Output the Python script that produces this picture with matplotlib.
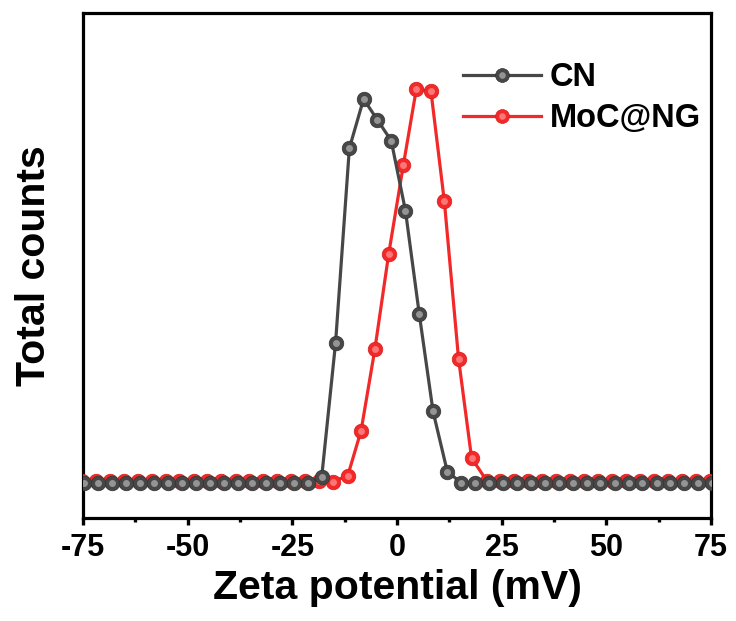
import matplotlib.pyplot as plt

# zeta potential grid (mV)
x_cn = [-74.7, -71.4, -68.0, -64.7, -61.4, -58.0, -54.7, -51.4, -48.0, -44.7,
        -41.4, -38.0, -34.7, -31.4, -28.0, -24.7, -21.4, -18.0, -14.7, -11.4,
        -8.0, -4.7, -1.4, 2.0, 5.3, 8.6, 12.0, 15.3, 18.6, 22.0,
        25.3, 28.6, 32.0, 35.3, 38.6, 42.0, 45.3, 48.6, 52.0, 55.3,
        58.6, 62.0, 65.3, 68.6, 72.0, 75.3]
y_cn = [0, 0, 0, 0, 0, 0, 0, 0, 0, 0,
        0, 0, 0, 0, 0, 0, 0, 1.5, 34.9, 83.6,
        95.9, 90.7, 85.5, 68.0, 42.2, 17.8, 2.8, 0, 0, 0,
        0, 0, 0, 0, 0, 0, 0, 0, 0, 0,
        0, 0, 0, 0, 0, 0]

x_moc = [-75.3, -72.0, -68.6, -65.3, -62.0, -58.6, -55.3, -52.0, -48.6, -45.3,
         -42.0, -38.6, -35.3, -32.0, -28.6, -25.3, -22.0, -18.6, -15.4, -11.8,
         -8.6, -5.3, -2.0, 1.5, 4.6, 8.1, 11.3, 14.7, 17.8, 21.4,
         24.7, 28.0, 31.4, 34.7, 38.0, 41.4, 44.7, 48.0, 51.4, 54.7,
         58.0, 61.4, 64.7, 68.0, 71.4, 74.7]
y_moc = [0.5, 0.5, 0.5, 0.5, 0.5, 0.5, 0.5, 0.5, 0.5, 0.5,
         0.5, 0.5, 0.5, 0.5, 0.5, 0.5, 0.5, 0.5, 0.3, 1.7,
         13.0, 33.4, 57.2, 79.4, 98.4, 97.8, 70.3, 30.9, 6.2, 0.5,
         0.5, 0.5, 0.5, 0.5, 0.5, 0.5, 0.5, 0.5, 0.5, 0.5,
         0.5, 0.5, 0.5, 0.5, 0.5, 0.5]

labels = ['CN', 'MoC@NG']
xticks = [-75, -50, -25, 0, 25, 50, 75]

plt.rcParams['font.family'] = ['Liberation Sans', 'DejaVu Sans']
plt.rcParams['font.weight'] = 'bold'
plt.rcParams['axes.unicode_minus'] = False

fig = plt.figure(figsize=(7.36, 6.21), dpi=100)
ax = fig.add_axes([0.113, 0.166, 0.853, 0.813])

red = '#f32828'
grey = '#474747'

l_moc, = ax.plot(x_moc, y_moc, '-o', color=red, lw=2.3, ms=10.5,
                 mec='#d81c1c', mew=0.5, zorder=3)
h_moc, = ax.plot(x_moc, y_moc, 'o', color='#ff8a8a', ms=5, mew=0,
                 alpha=0.8, zorder=3.1)
l_cn, = ax.plot(x_cn, y_cn, '-o', color=grey, lw=2.3, ms=10.5,
                mec='#333333', mew=0.5, zorder=4)
h_cn, = ax.plot(x_cn, y_cn, 'o', color='#a8a8a8', ms=5, mew=0,
                alpha=0.8, zorder=4.1)

ax.set_xlim(-75, 75)
ax.set_ylim(-8.8, 117.4)
ax.set_xticks(xticks)
ax.set_xticks([v + 12.5 for v in xticks[:-1]], minor=True)
ax.set_yticks([])
ax.tick_params(axis='x', which='major', length=5, width=2.4, labelsize=22,
               pad=6)
ax.tick_params(axis='x', which='minor', length=3, width=2.4)
for s in ax.spines.values():
    s.set_linewidth(2.3)

ax.set_xlabel('Zeta potential (mV)', fontsize=29.5, fontweight='bold',
              labelpad=4)
ax.set_ylabel('Total counts', fontsize=29.5, fontweight='bold', labelpad=22)

ax.legend([(l_cn, h_cn), (l_moc, h_moc)], labels, loc='upper right',
          bbox_to_anchor=(1.02, 0.948), frameon=False, fontsize=23.5,
          handlelength=2.4, handletextpad=0.25, labelspacing=0.3,
          markerscale=0.95, numpoints=1, borderaxespad=0.3)

plt.savefig('out.png', dpi=100)
